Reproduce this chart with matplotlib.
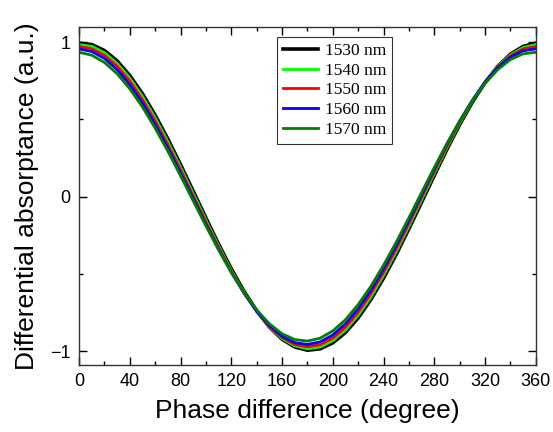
import numpy as np
import matplotlib.pyplot as plt
from matplotlib.ticker import MultipleLocator

# phase difference (degree)
phase = np.arange(0, 361, 10)

# differential absorptance, one list per wavelength
y1530 = [0.994, 0.985, 0.946, 0.879, 0.784, 0.666, 0.527, 0.373, 0.207, 0.035,
         -0.138, -0.308, -0.467, -0.613, -0.739, -0.844, -0.923, -0.973, -0.994,
         -0.985, -0.946, -0.879, -0.784, -0.666, -0.527, -0.373, -0.207, -0.035,
         0.138, 0.308, 0.467, 0.613, 0.739, 0.844, 0.923, 0.973, 0.994]
y1540 = [0.985, 0.973, 0.932, 0.862, 0.767, 0.648, 0.509, 0.355, 0.190, 0.019,
         -0.152, -0.319, -0.476, -0.619, -0.742, -0.843, -0.919, -0.966, -0.985,
         -0.973, -0.932, -0.862, -0.767, -0.648, -0.509, -0.355, -0.190, -0.019,
         0.152, 0.319, 0.476, 0.619, 0.742, 0.843, 0.919, 0.966, 0.985]
y1550 = [0.972, 0.958, 0.915, 0.844, 0.747, 0.627, 0.489, 0.336, 0.172, 0.003,
         -0.165, -0.329, -0.483, -0.622, -0.742, -0.840, -0.912, -0.957, -0.972,
         -0.958, -0.915, -0.844, -0.747, -0.627, -0.489, -0.336, -0.172, -0.003,
         0.165, 0.329, 0.483, 0.622, 0.742, 0.840, 0.912, 0.957, 0.972]
y1560 = [0.957, 0.940, 0.895, 0.822, 0.724, 0.605, 0.467, 0.315, 0.153, -0.013,
         -0.179, -0.340, -0.490, -0.625, -0.742, -0.835, -0.904, -0.945, -0.957,
         -0.940, -0.895, -0.822, -0.724, -0.605, -0.467, -0.315, -0.153, 0.013,
         0.179, 0.340, 0.490, 0.625, 0.742, 0.835, 0.904, 0.945, 0.957]
y1570 = [0.935, 0.916, 0.869, 0.796, 0.698, 0.580, 0.443, 0.294, 0.135, -0.028,
         -0.190, -0.346, -0.491, -0.622, -0.734, -0.823, -0.888, -0.925, -0.935,
         -0.916, -0.869, -0.796, -0.698, -0.580, -0.443, -0.294, -0.135, 0.028,
         0.190, 0.346, 0.491, 0.622, 0.734, 0.823, 0.888, 0.925, 0.935]

labels = ['1530 nm', '1540 nm', '1550 nm', '1560 nm', '1570 nm']
colors = ['black', '#00ff00', '#ff0000', '#0000ff', '#008000']
widths = [2.6, 2.0, 2.0, 2.0, 2.0]

plt.rcParams['font.family'] = ['Liberation Sans', 'DejaVu Sans']

fig = plt.figure(figsize=(5.53, 4.32), dpi=100)
ax = fig.add_axes([0.143, 0.155, 0.826, 0.783])

for yv, lab, c, lw in zip([y1530, y1540, y1550, y1560, y1570], labels, colors, widths):
    ax.plot(phase, yv, '-', color=c, lw=lw, label=lab)

ax.set_xlim(0, 360)
ax.set_ylim(-1.09, 1.1)
ax.xaxis.set_major_locator(MultipleLocator(40))
ax.xaxis.set_minor_locator(MultipleLocator(20))
ax.set_yticks([-1, 0, 1])
ax.yaxis.set_minor_locator(MultipleLocator(0.5))
ax.tick_params(which='both', direction='in', top=True, right=True, labelsize=13, width=1)
ax.tick_params(which='major', length=6, pad=6)
ax.tick_params(which='minor', length=3)
for s in ax.spines.values():
    s.set_color('#333333')
    s.set_linewidth(1)

ax.set_xlabel('Phase difference (degree)', fontsize=19, labelpad=6)
ax.set_ylabel('Differential absorptance (a.u.)', fontsize=19, labelpad=8)

leg = ax.legend(loc='upper left', bbox_to_anchor=(277 / 553, 1 - 37 / 432),
                bbox_transform=fig.transFigure, fancybox=False, framealpha=1,
                edgecolor='#333333', prop={'family': 'Liberation Serif', 'size': 12.5},
                handlelength=2.0, labelspacing=0.2, borderpad=0.35, handletextpad=0.4,
                borderaxespad=0)
leg.get_frame().set_linewidth(0.8)

fig.savefig('out.png', dpi=100)
